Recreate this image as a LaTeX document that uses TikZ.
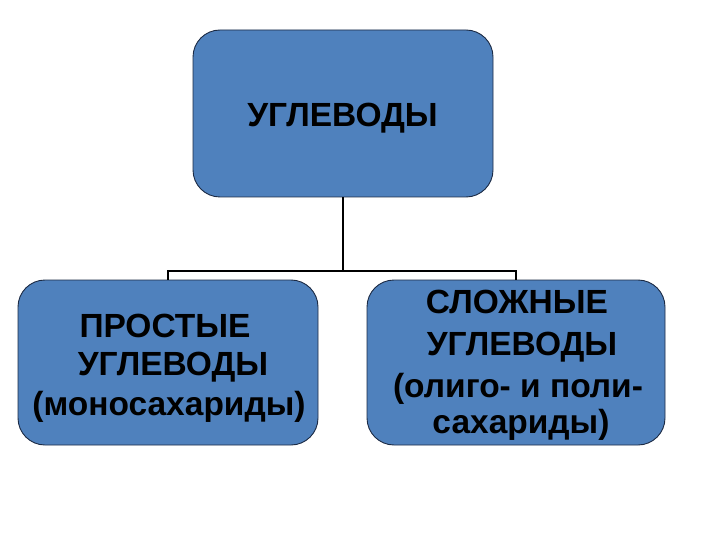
\documentclass[tikz,border=0pt]{standalone}
\usepackage{fontspec}
\setmainfont{Liberation Sans}
\definecolor{boxblue}{HTML}{4F81BD}
\definecolor{boxedge}{HTML}{1C2B45}
\begin{document}
\begin{tikzpicture}[x=1pt,y=-1pt,
  box/.style={draw=boxedge,line width=0.9pt,fill=boxblue,rounded corners=27pt,inner sep=0pt},
  lbl/.style={anchor=base,inner sep=0pt,font=\fontsize{33.5}{38}\selectfont\bfseries,text=black},
  conn/.style={draw=black,line width=2pt}]
\useasboundingbox[fill=white] (0,0) rectangle (720,540);
% boxes
\node[box,minimum width=300pt,minimum height=167pt] (top) at (343,113.5) {};
\node[box,minimum width=300pt,minimum height=165pt] (left) at (168,362.5) {};
\node[box,minimum width=298pt,minimum height=165pt] (right) at (516,362.5) {};
% labels
\node[lbl] (t1) at (342.5,127) {УГЛЕВОДЫ};
\node[lbl] (l1) at (165,337) {ПРОСТЫЕ};
\node[lbl] (l2) at (173,375) {УГЛЕВОДЫ};
\node[lbl] (l3) at (169,415) {(моносахариды)};
\node[lbl] (r1) at (517,313) {СЛОЖНЫЕ};
\node[lbl] (r2) at (522,355) {УГЛЕВОДЫ};
\node[lbl] (r3) at (518,397) {(олиго- и поли-};
\node[lbl] (r4) at (521,433) {сахариды)};
% connectors
\coordinate (j) at (343,271);
\draw[conn] (top.south) -- (j);
\draw[conn] (left.north) |- (j) -| (right.north);
\end{tikzpicture}
\end{document}
